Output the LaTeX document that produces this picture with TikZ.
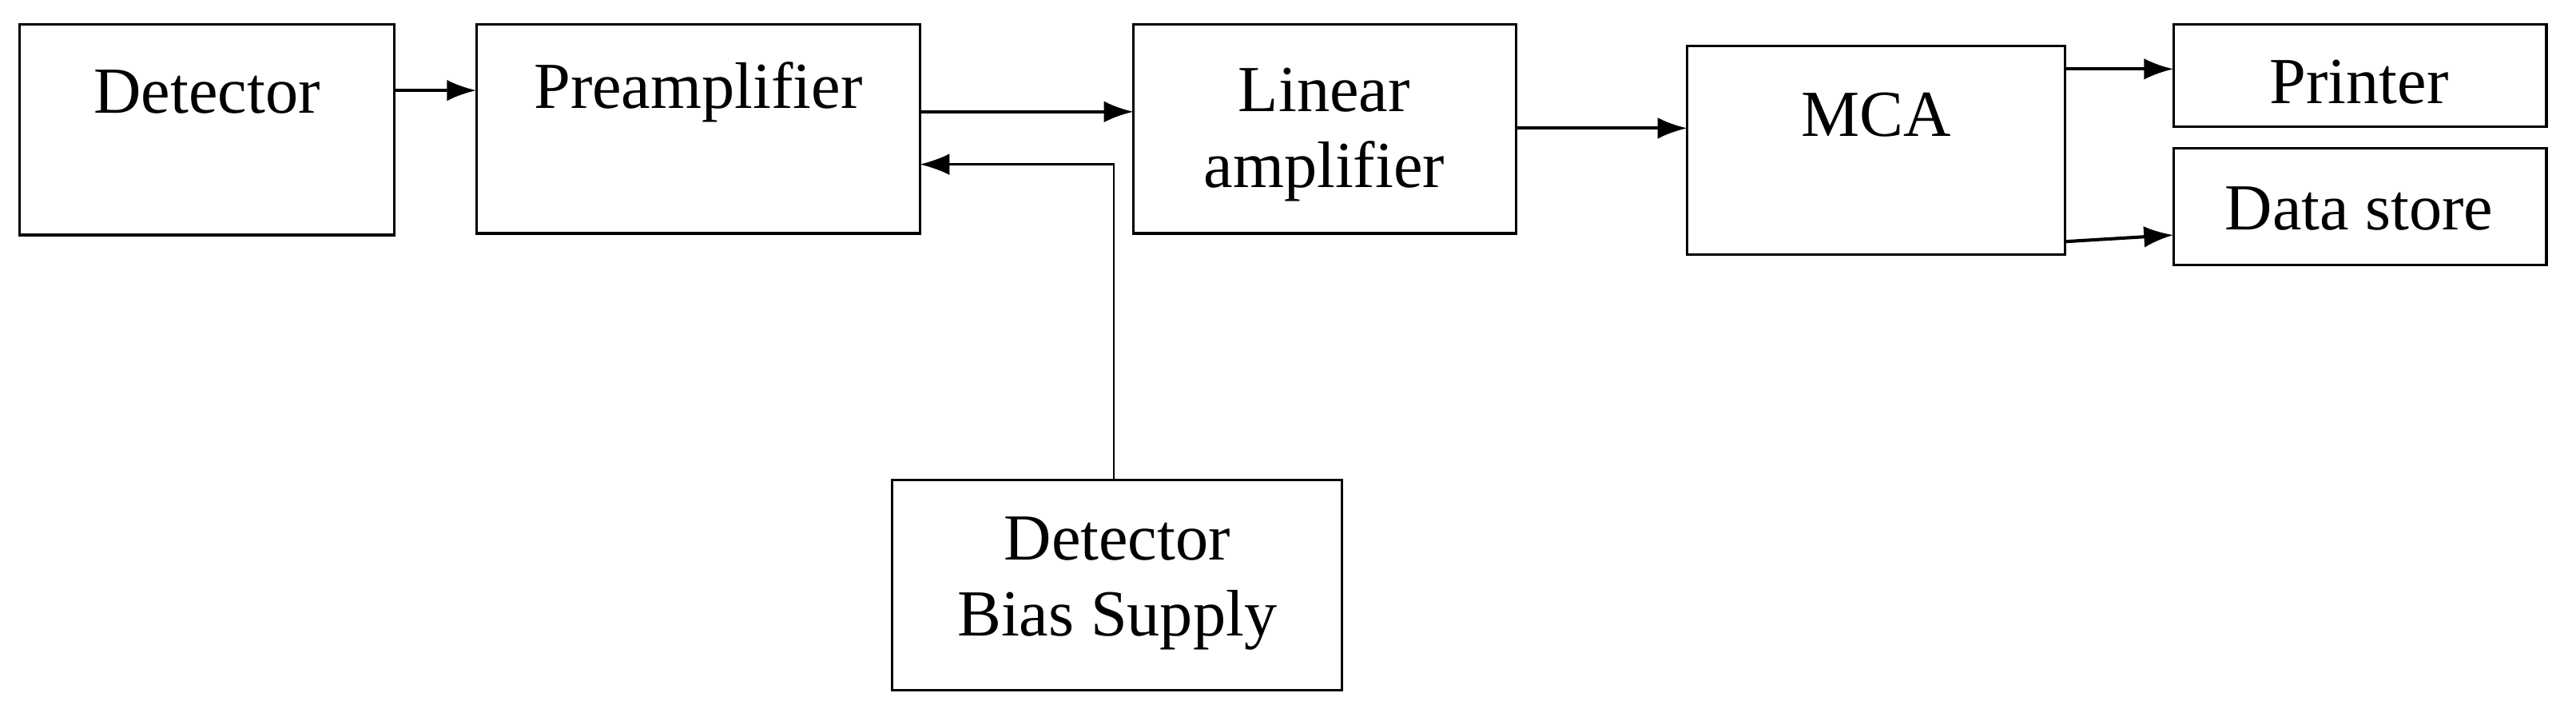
\documentclass[tikz,border=0pt]{standalone}
\usepackage{fontspec}
\setmainfont{Liberation Serif}
\usetikzlibrary{arrows.meta}
\begin{document}
\begin{tikzpicture}[x=1pt,y=-1pt,
  box/.style={draw,line width=1.5pt},
  lbl/.style={font=\fontsize{40}{44}\selectfont,align=center,inner sep=0},
  arr/.style={line width=2pt,-{Latex[length=18pt,width=13pt]}}]
\useasboundingbox (0,0) rectangle (1568,428.5);
\draw[box] (12,15) rectangle (240,143);
\node[lbl] (det) at (126,56) {Detector};
\draw[box] (290,15) rectangle (560,142);
\node[lbl] (pre) at (425,56) {Preamplifier};
\draw[box] (690,15) rectangle (923,142);
\node[lbl] (lin) at (806,82) {Linear\\[2pt]amplifier};
\draw[box] (1027,28) rectangle (1257,155);
\node[lbl] (mca) at (1142,70) {MCA};
\draw[box] (1323,15) rectangle (1550,77);
\node[lbl] (pr) at (1436,50) {Printer};
\draw[box] (1323,90) rectangle (1550,161);
\node[lbl] (ds) at (1436,127) {Data store};
\draw[box] (543,292) rectangle (817,420);
\node[lbl] (bias) at (680,355) {Detector\\[2pt]Bias Supply};
\coordinate (a1) at (240,55); \coordinate (b1) at (290,55);
\draw[arr] (a1) -- (b1);
\coordinate (a2) at (560,68); \coordinate (b2) at (690,68);
\draw[arr] (a2) -- (b2);
\coordinate (a3) at (678,292); \coordinate (m3) at (678,100); \coordinate (b3) at (560,100);
\draw[arr,line width=1.2pt] (a3) -- (m3) -- (b3);
\coordinate (a4) at (923,78); \coordinate (b4) at (1027,78);
\draw[arr] (a4) -- (b4);
\coordinate (a5) at (1257,42); \coordinate (b5) at (1323,42);
\draw[arr] (a5) -- (b5);
\coordinate (a6) at (1257,147); \coordinate (b6) at (1323,143);
\draw[arr] (a6) -- (b6);
\end{tikzpicture}
\end{document}
